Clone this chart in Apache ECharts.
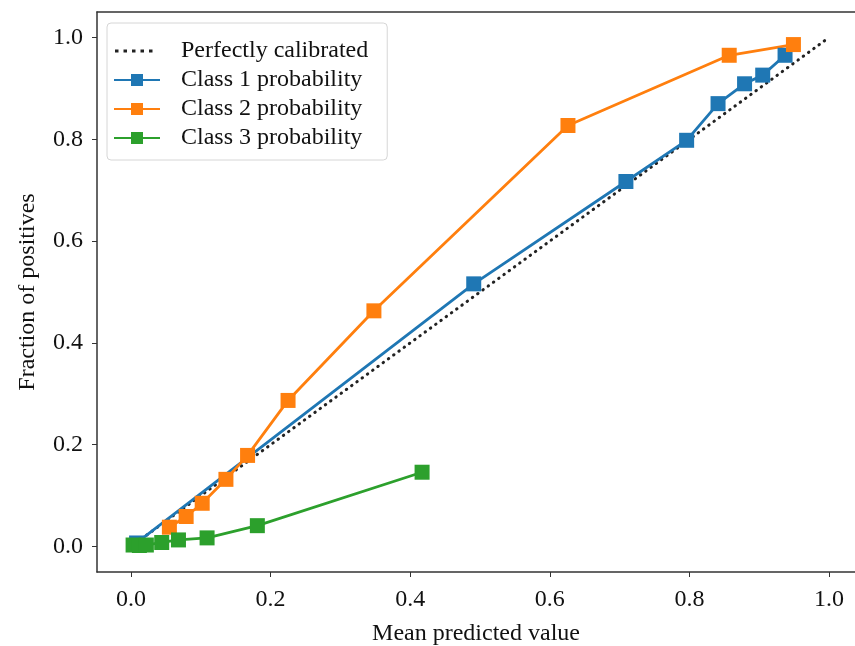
<!DOCTYPE html>
<html lang="en">

<head>
    <meta charset="UTF-8">
    <title>Calibration curve</title>
    <script src="https://cdn.jsdelivr.net/npm/echarts@6/dist/echarts.min.js"></script>
</head>
<style>
    * {
        padding: 0;
        margin: 0;
    }

    #myChart {
        width: 855px;
        height: 646px;
    }
</style>

<body>
    <div id="myChart"></div>
    <script>
        // tick labels
        const ticks = [0, 0.2, 0.4, 0.6, 0.8, 1.0];

        // reference diagonal
        const perfect = [[0, 0], [1, 1]];

        // [mean predicted value, fraction of positives]
        const class1 = [[0.008, 0.007], [0.491, 0.516], [0.709, 0.717], [0.796, 0.798],
            [0.841, 0.870], [0.879, 0.909], [0.905, 0.926], [0.937, 0.965]];
        const class2 = [[0.055, 0.038], [0.079, 0.059], [0.102, 0.085], [0.136, 0.132],
            [0.167, 0.179], [0.225, 0.287], [0.348, 0.463], [0.626, 0.827],
            [0.857, 0.965], [0.949, 0.986]];
        const class3 = [[0.003, 0.003], [0.012, 0.002], [0.022, 0.003], [0.044, 0.008],
            [0.068, 0.013], [0.109, 0.017], [0.181, 0.041], [0.417, 0.146]];

        const font = "Liberation Serif";
        const myChart = echarts.init(document.getElementById('myChart'));

        // dotted legend handle; the two tiny corner squares only fix the icon's box to 46x15
        const dottedIcon = 'path://M0,0h0.01v0.01h-0.01z M45.99,14.99h0.01v0.01h-0.01z' +
            ' M1,6h3.5v3h-3.5z M9.5,6h3.5v3h-3.5z M18,6h3.5v3h-3.5z M26.5,6h3.5v3h-3.5z M35,6h3.5v3h-3.5z';

        function lineSeries(name, data, color) {
            return {
                name: name,
                type: 'line',
                data: data,
                symbol: 'rect',
                symbolSize: 15,
                lineStyle: { color: color, width: 2.8 },
                itemStyle: { color: color },
                emphasis: { disabled: true },
                animation: false
            };
        }

        // the plot box runs a bit past the right edge of the picture
        const xMin = -0.0487, xMax = 1.0372;

        const option = {
            backgroundColor: '#fff',
            textStyle: { fontFamily: font },
            grid: {
                left: 97,
                top: 12,
                right: 0,
                bottom: 74,
                outerBoundsMode: 'none'
            },
            legend: {
                left: 107,
                top: 23,
                orient: 'vertical',
                itemWidth: 46,
                itemHeight: 15,
                itemGap: 5,
                padding: [16, 19, 10, 6],
                borderColor: '#d6d6d6',
                borderWidth: 1,
                borderRadius: 4,
                textStyle: { fontFamily: font, fontSize: 24, color: '#111', padding: [0, 0, 0, 16] },
                data: [
                    { name: 'Perfectly calibrated', icon: dottedIcon },
                    'Class 1 probability', 'Class 2 probability', 'Class 3 probability'
                ]
            },
            xAxis: [{
                type: 'value',
                min: xMin,
                max: xMax,
                name: 'Mean predicted value',
                nameLocation: 'middle',
                nameGap: 50,
                nameTextStyle: { fontFamily: font, fontSize: 24, color: '#111' },
                axisLine: { onZero: false, lineStyle: { color: '#333', width: 1.5 } },
                axisTick: { show: true, length: 5, lineStyle: { color: '#333' }, customValues: ticks },
                axisLabel: {
                    customValues: ticks,
                    margin: 16,
                    fontFamily: font,
                    fontSize: 24,
                    color: '#111',
                    formatter: v => v.toFixed(1)
                },
                splitLine: { show: false }
            }, {
                // top spine only
                type: 'value',
                position: 'top',
                min: xMin,
                max: xMax,
                axisLine: { onZero: false, lineStyle: { color: '#333', width: 1.5 } },
                axisTick: { show: false },
                axisLabel: { show: false },
                splitLine: { show: false }
            }],
            yAxis: {
                type: 'value',
                min: -0.05,
                max: 1.05,
                name: 'Fraction of positives',
                nameLocation: 'middle',
                nameGap: 57,
                nameTextStyle: { fontFamily: font, fontSize: 24, color: '#111' },
                axisLine: { show: true, onZero: false, lineStyle: { color: '#333', width: 1.5 } },
                axisTick: { show: true, length: 5, lineStyle: { color: '#333' }, customValues: ticks },
                axisLabel: {
                    customValues: ticks,
                    margin: 14,
                    fontFamily: font,
                    fontSize: 24,
                    color: '#111',
                    formatter: v => v.toFixed(1)
                },
                splitLine: { show: false }
            },
            series: [
                {
                    name: 'Perfectly calibrated',
                    type: 'line',
                    data: perfect,
                    symbol: 'none',
                    lineStyle: { color: '#222', width: 3, type: [0.5, 6], cap: 'round' },
                    itemStyle: { color: '#222' },
                    emphasis: { disabled: true },
                    animation: false
                },
                lineSeries('Class 1 probability', class1, '#1f77b4'),
                lineSeries('Class 2 probability', class2, '#ff7f0e'),
                lineSeries('Class 3 probability', class3, '#2ca02c')
            ]
        };
        myChart.setOption(option);
    </script>

</body>

</html>
